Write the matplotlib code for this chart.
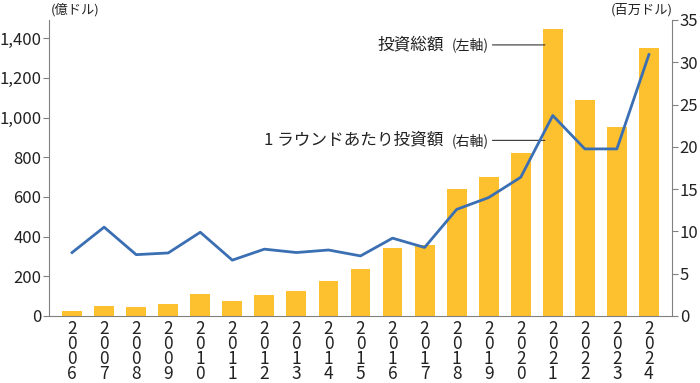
import matplotlib
matplotlib.use("Agg")
import matplotlib.pyplot as plt
import numpy as np

plt.rcParams['font.family'] = ['Noto Sans CJK JP', 'DejaVu Sans']

years = ['2006', '2007', '2008', '2009', '2010', '2011', '2012', '2013', '2014', '2015',
         '2016', '2017', '2018', '2019', '2020', '2021', '2022', '2023', '2024']
# total investment (100 million USD, left axis)
total_invest = [25, 50, 45, 62, 111, 74, 106, 128, 176, 235,
                341, 358, 640, 702, 823, 1447, 1089, 953, 1349]
# investment per round (million USD, right axis)
per_round = [7.5, 10.5, 7.25, 7.45, 9.9, 6.6, 7.9, 7.5, 7.8, 7.1,
             9.2, 8.1, 12.6, 14.0, 16.4, 23.7, 19.75, 19.75, 30.9]

bar_color = '#FDC02F'
line_color = '#3B6FB3'
spine_color = '#808080'
text_color = '#222222'

fig = plt.figure(figsize=(7, 3.83), dpi=100)
ax = fig.add_axes([0.07, 0.175, 0.89, 0.773])
ax2 = ax.twinx()

x = np.arange(len(years))
ax.bar(x, total_invest, width=0.62, color=bar_color, zorder=2)
ax2.plot(x, per_round, color=line_color, lw=2)

ax.set_xlim(-0.72, len(years) - 1 + 0.72)
ax.set_ylim(0, 1492)
ax2.set_ylim(0, 35)

ax.set_yticks(range(0, 1401, 200))
ax.set_yticklabels([f'{v:,}' for v in range(0, 1401, 200)])
ax2.set_yticks(range(0, 36, 5))

ax.set_xticks(x)
ax.set_xticklabels(['\n'.join(y) for y in years], linespacing=0.78)
ax.tick_params(axis='x', length=0, labelsize=12.5, pad=3, colors=text_color)
ax.tick_params(axis='y', length=4, width=0.8, color=spine_color, labelsize=12,
               pad=1.5, labelcolor=text_color)
ax2.tick_params(axis='y', length=4, width=0.8, color=spine_color, labelsize=12,
                pad=1.5, labelcolor=text_color)

for a in (ax, ax2):
    a.spines['top'].set_visible(False)
    for s in a.spines.values():
        s.set_color(spine_color)
        s.set_linewidth(0.8)
ax.spines['right'].set_visible(False)
ax2.spines['left'].set_visible(False)
ax2.spines['bottom'].set_visible(False)

# unit labels
fig.text(0.107, 0.975, '(億ドル)', fontsize=9.5, ha='center', va='center', color=text_color)
fig.text(0.917, 0.975, '(百万ドル)', fontsize=9.5, ha='center', va='center', color=text_color)

# annotations
ax.annotate('', xy=(14.84, 1366), xytext=(13.03, 1366),
            arrowprops=dict(arrowstyle='-', lw=0.8, color='#333333'))
ax.text(13.0, 1366, '(左軸)', fontsize=10, ha='right', va='center', color=text_color)
ax.text(11.6, 1366, '投資総額', fontsize=12, ha='right', va='center', color=text_color)

ax.annotate('', xy=(14.84, 885), xytext=(13.03, 885),
            arrowprops=dict(arrowstyle='-', lw=0.8, color='#333333'))
ax.text(13.0, 885, '(右軸)', fontsize=10, ha='right', va='center', color=text_color)
ax.text(11.6, 885, '1 ラウンドあたり投資額', fontsize=12, ha='right', va='center',
        color=text_color)

fig.savefig('out.png', dpi=100)
